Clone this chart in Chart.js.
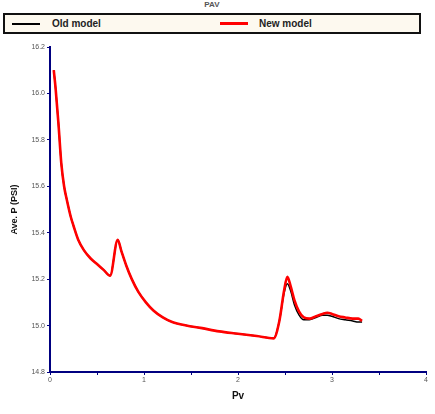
<!DOCTYPE html>
<html>
<head>
<meta charset="utf-8">
<script src="https://cdn.jsdelivr.net/npm/chart.js@4/dist/chart.umd.min.js"></script>
<style>
  body { margin: 0; width: 435px; height: 414px; background: #fff; position: relative; overflow: hidden; font-family: "Liberation Sans", Arial, sans-serif; }
  #title { position: absolute; top: 0; left: 3px; width: 418px; text-align: center; font-size: 8px; font-weight: bold; color: #555; }
  #legend { position: absolute; left: 3px; top: 13px; width: 414px; height: 17px; border: 2px solid #111; background: #fdf9ef; }
  .item { position: absolute; top: 3px; font-size: 10px; font-weight: bold; color: #222; }
  .swatch { position: absolute; top: 8px; width: 28px; }
  #wrap { position: absolute; left: 0; top: 40px; width: 435px; height: 374px; }
</style>
</head>
<body>
<div id="title">PAV</div>
<div id="legend">
  <div class="swatch" style="left:7px;height:2px;background:#000"></div>
  <div class="item" style="left:47px">Old model</div>
  <div class="swatch" style="left:215px;height:3px;top:7px;background:#f00"></div>
  <div class="item" style="left:254px">New model</div>
</div>
<div id="wrap"><canvas id="chart" width="435" height="374"></canvas></div>
<script>
// ========= data =========
const pvValues = [0.04, 0.06, 0.09, 0.12, 0.15, 0.18, 0.22, 0.25, 0.30, 0.36, 0.43, 0.50, 0.57, 0.64,
  0.72, 0.76, 0.81, 0.87, 0.94, 1.02, 1.10, 1.20, 1.30, 1.45, 1.60, 1.80, 2.00, 2.20, 2.38,
  2.44, 2.49, 2.525, 2.56, 2.60, 2.65, 2.70, 2.76, 2.83, 2.90, 2.95, 3.00, 3.07, 3.14, 3.22, 3.28, 3.32];

const oldModel = [16.10, 16.02, 15.87, 15.70, 15.60, 15.54, 15.47, 15.43, 15.37, 15.325, 15.29, 15.265, 15.24, 15.215,
  15.37, 15.32, 15.26, 15.20, 15.145, 15.10, 15.065, 15.035, 15.015, 15.0, 14.99, 14.975, 14.965, 14.955, 14.945,
  15.02, 15.14, 15.18, 15.15, 15.09, 15.045, 15.025, 15.025, 15.035, 15.045, 15.045, 15.04, 15.03, 15.025, 15.02, 15.015, 15.015];

const newModel = [16.10, 16.02, 15.87, 15.70, 15.60, 15.54, 15.47, 15.43, 15.37, 15.325, 15.29, 15.265, 15.24, 15.215,
  15.37, 15.32, 15.26, 15.20, 15.145, 15.10, 15.065, 15.035, 15.015, 15.0, 14.99, 14.975, 14.965, 14.955, 14.945,
  15.02, 15.15, 15.21, 15.17, 15.11, 15.06, 15.035, 15.03, 15.04, 15.05, 15.055, 15.05, 15.04, 15.035, 15.03, 15.03, 15.02];

const xTicks = [0, 1, 2, 3, 4];

// ========= chart =========
const toPoints = ys => pvValues.map((x, i) => ({ x, y: ys[i] }));
const axisColor = "#000080";
const tickFont = { family: "Liberation Sans", size: 7 };
const titleFont = { family: "Liberation Sans", size: 10, weight: "bold" };

new Chart(document.getElementById("chart"), {
  type: "line",
  data: {
    datasets: [
      { label: "Old model", data: toPoints(oldModel), borderColor: "#000", borderWidth: 1.5, pointRadius: 0, cubicInterpolationMode: "monotone", order: 1 },
      { label: "New model", data: toPoints(newModel), borderColor: "#f00", borderWidth: 2.6, pointRadius: 0, cubicInterpolationMode: "monotone", order: 0 }
    ]
  },
  options: {
    responsive: false,
    animation: false,
    layout: { padding: { top: 7, right: 9, left: 0, bottom: 0 } },
    plugins: { legend: { display: false }, tooltip: { enabled: false } },
    scales: {
      x: {
        type: "linear", min: 0, max: 4,
        border: { color: axisColor, width: 2 },
        grid: { drawOnChartArea: false, tickLength: 3, color: axisColor },
        ticks: {
          stepSize: 0.5, color: "#555", font: tickFont, padding: 1, maxRotation: 0,
          callback: v => xTicks.includes(v) ? String(v) : ""
        },
        title: { display: true, text: "Pv", color: "#111", font: titleFont, padding: { top: 4, bottom: 12 } },
        afterFit: s => { s.height = 42; }
      },
      y: {
        min: 14.8, max: 16.2,
        border: { color: axisColor, width: 2 },
        grid: { drawOnChartArea: false, tickLength: 3, color: axisColor },
        ticks: { stepSize: 0.2, color: "#555", font: tickFont, padding: 2, callback: v => v.toFixed(1) },
        title: { display: true, text: "Ave. P (PSI)", color: "#111", font: { family: "Liberation Sans", size: 9, weight: "bold" }, padding: { top: 9, bottom: 4 } },
        afterFit: s => { s.width = 50; }
      }
    }
  }
});
</script>
</body>
</html>
